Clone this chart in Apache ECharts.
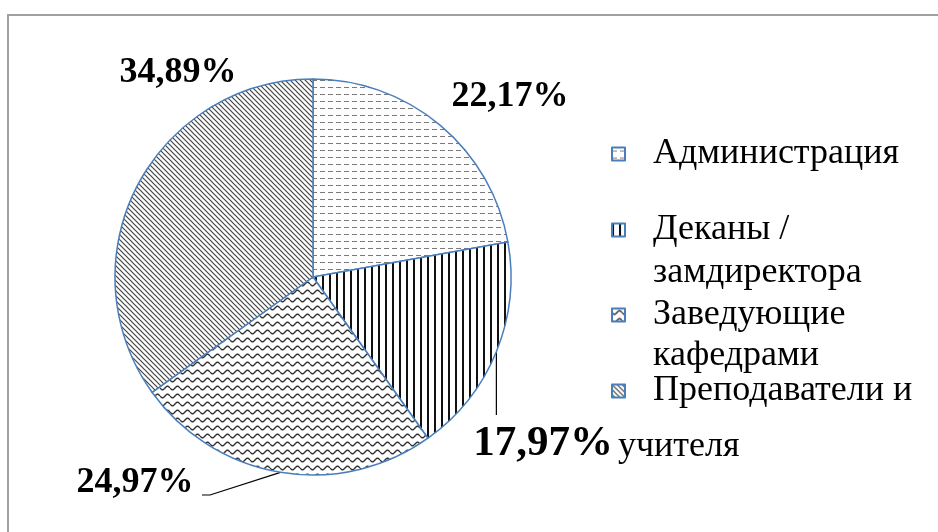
<!DOCTYPE html>
<html>
<head>
<meta charset="utf-8">
<script src="https://cdn.jsdelivr.net/npm/echarts@6/dist/echarts.min.js"></script>
<style>
  html, body { margin: 0; padding: 0; background: #fff; }
  #chart { width: 938px; height: 532px; }
</style>
</head>
<body>
<div id="chart"></div>
<script>
// доли групп, %
const legendLines = [
  ['Администрация'],
  ['Деканы /', 'замдиректора'],
  ['Заведующие', 'кафедрами'],
  ['Преподаватели и', 'учителя']
]
const names = legendLines.map(l => l.join(' '))
const shares = [22.17, 17.97, 24.97, 34.89]

// штриховки секторов
function tile (w, h, draw) {
  let c = document.createElement('canvas')
  c.width = w
  c.height = h
  let ctx = c.getContext('2d')
  ctx.fillStyle = '#fff'
  ctx.fillRect(0, 0, w, h)
  draw(ctx, w, h)
  return { image: c, repeat: 'repeat' }
}
const patterns = [
  tile(8, 7, ctx => {
    ctx.fillStyle = '#7a7a7a'
    ctx.fillRect(0, 3, 5, 1)
  }),
  tile(7, 4, ctx => {
    ctx.fillStyle = '#111'
    ctx.fillRect(0, 0, 2, 4)
  }),
  tile(10, 8, (ctx, w) => {
    ctx.strokeStyle = '#333'
    ctx.lineWidth = 1.4
    ctx.beginPath()
    for (let x = 0; x <= w; x += 0.5) {
      let y = 4 + 1.8 * Math.sin(2 * Math.PI * x / w)
      x === 0 ? ctx.moveTo(x, y) : ctx.lineTo(x, y)
    }
    ctx.stroke()
  }),
  tile(5, 5, ctx => {
    ctx.strokeStyle = '#444'
    ctx.lineWidth = 1.2
    ctx.beginPath()
    ctx.moveTo(-1, -1); ctx.lineTo(6, 6)
    ctx.moveTo(4, -1); ctx.lineTo(6, 1)
    ctx.moveTo(-1, 4); ctx.lineTo(1, 6)
    ctx.stroke()
  })
]

const serif = 'Liberation Serif'
const legendFont = 36
const labelFont = [36, 43, 36, 36]
const labelPos = [[510, 97], [543, 444], [135, 483], [178, 73]]
// строки легенды: центр первой строки и шаг строк
const legendRows = [[154, 40], [230, 43], [315, 41], [391, 40]]

let myChart = echarts.init(document.getElementById('chart'))
myChart.setOption({
  animation: false,
  graphic: [{
    type: 'rect',
    z: -1,
    shape: { x: 8, y: 15, width: 1000, height: 600 },
    style: { fill: 'none', stroke: '#a0a0a0', lineWidth: 2 }
  }, {
    // перенос «учителя» стоит левее колонки легенды
    type: 'text',
    x: 618,
    y: 447,
    style: {
      text: legendLines[3][1],
      font: legendFont + 'px "' + serif + '"',
      fill: '#000',
      verticalAlign: 'middle'
    }
  }],
  legend: legendRows.map((r, i) => {
    let two = i === 1 || i === 2
    return {
      data: [names[i]],
      orient: 'vertical',
      left: 611,
      top: r[0] - (two ? 1.5 : 0.5) * r[1],
      padding: 0,
      itemWidth: 13,
      itemHeight: 13,
      itemGap: 0,
      icon: 'rect',
      selectedMode: false,
      formatter: () => two ? '\n' + legendLines[i].join('\n') : legendLines[i][0],
      textStyle: { fontFamily: serif, fontSize: legendFont, lineHeight: r[1], color: '#000', padding: [0, 0, 0, 23] }
    }
  }),
  series: [{
    type: 'pie',
    center: [313, 277],
    radius: 198,
    startAngle: 90,
    clockwise: true,
    avoidLabelOverlap: false,
    emphasis: { disabled: true },
    itemStyle: { borderColor: '#4a7ebb', borderWidth: 1.5 },
    label: {
      show: true,
      position: 'outside',
      fontFamily: serif,
      fontWeight: 'bold',
      color: '#000',
      formatter: p => p.value.toFixed(2).replace('.', ',') + '%'
    },
    labelLine: { show: true, length: 20, length2: 10, lineStyle: { color: '#000', width: 1.2 } },
    labelLayout: params => {
      let i = params.dataIndex
      let [x, y] = labelPos[i]
      let res = { x: x, y: y, align: 'center', verticalAlign: 'middle' }
      let p0 = params.labelLinePoints && params.labelLinePoints[0]
      if (p0 && i === 1) {
        res.labelLinePoints = [p0, [p0[0], y - 29], [p0[0], y - 29]]
      } else if (p0 && i === 2) {
        res.labelLinePoints = [p0, [x + 75, y + 12], [x + 67, y + 12]]
      }
      return res
    },
    data: names.map((n, i) => ({
      name: n,
      value: shares[i],
      itemStyle: { color: patterns[i] },
      label: { fontSize: labelFont[i] },
      labelLine: { show: i === 1 || i === 2 }
    }))
  }]
})
</script>
</body>
</html>
